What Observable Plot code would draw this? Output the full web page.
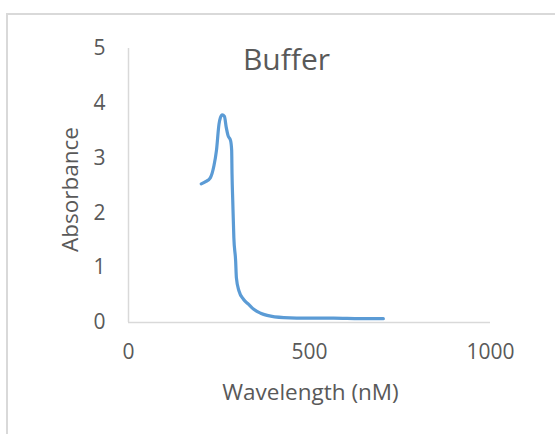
<!DOCTYPE html>
<html>
<head>
<meta charset="utf-8">
<script src="https://cdn.jsdelivr.net/npm/d3@7"></script>
<script src="https://cdn.jsdelivr.net/npm/@observablehq/plot@0.6"></script>
<style>
  html, body { margin: 0; padding: 0; background: #fff; overflow: hidden; }
  #wrap { position: relative; width: 555px; height: 434px; overflow: hidden; }
  #border { position: absolute; left: 6px; top: 13px; width: 600px; height: 500px;
            border-left: 2px solid #d9d9d9; border-top: 2px solid #d9d9d9; }
  #chart { position: absolute; left: 0; top: 0; }
</style>
</head>
<body>
<div id="wrap"><div id="border"></div><div id="chart"></div></div>
<script>
const title = "Buffer";
const xLabel = "Wavelength (nM)";
const yLabel = "Absorbance";
const xTicks = [0, 500, 1000];
const yTicks = [0, 1, 2, 3, 4, 5];
const wavelength = [201, 213, 226, 236, 243, 250, 254, 259, 265, 270, 275, 282, 285, 286, 288, 291, 296, 298, 305, 318, 332, 346, 365, 383, 429, 500, 567, 640, 704];
const absorbance = [2.53, 2.57, 2.64, 2.86, 3.14, 3.62, 3.74, 3.79, 3.76, 3.56, 3.41, 3.32, 3.14, 2.71, 2.22, 1.55, 1.12, 0.82, 0.58, 0.42, 0.33, 0.24, 0.17, 0.13, 0.09, 0.08, 0.08, 0.07, 0.07];

const data = wavelength.map((w, i) => ({w, a: absorbance[i]}));
const font = "'Open Sans', sans-serif";
const gray = "#595959";

const chart = Plot.plot({
  width: 555,
  height: 434,
  marginLeft: 128,
  marginRight: 65,
  marginTop: 48,
  marginBottom: 112,
  style: {fontFamily: font, background: "transparent", color: gray, overflow: "visible"},
  x: {domain: [0, 1000]},
  y: {domain: [0, 5]},
  marks: [
    Plot.ruleY([0], {stroke: "#d9d9d9", strokeWidth: 1.5}),
    Plot.ruleX([0], {stroke: "#d9d9d9", strokeWidth: 1.5}),
    Plot.axisX(xTicks, {tickSize: 0, tickPadding: 22, fontSize: 21, fill: gray, label: null, tickFormat: d => String(d)}),
    Plot.axisY(yTicks, {tickSize: 0, tickPadding: 23, fontSize: 21, fill: gray, label: null, tickFormat: d => String(d)}),
    Plot.line(data, {x: "w", y: "a", stroke: "#5b9bd5", strokeWidth: 3.2, curve: "monotone-x", strokeLinejoin: "round", strokeLinecap: "round"}),
    Plot.text([title], {frameAnchor: "top", text: d => d, textAnchor: "middle", lineAnchor: "middle", dx: -23, dy: 11.5, fontSize: 30, fill: gray}),
    Plot.text([xLabel], {frameAnchor: "bottom", text: d => d, textAnchor: "middle", lineAnchor: "middle", dx: 1, dy: 70, fontSize: 22.5, fill: gray}),
    Plot.text([yLabel], {frameAnchor: "left", text: d => d, textAnchor: "middle", lineAnchor: "middle", rotate: -90, dx: -58, dy: 4, fontSize: 22.5, fill: gray})
  ]
});
document.getElementById("chart").appendChild(chart);
</script>
</body>
</html>
